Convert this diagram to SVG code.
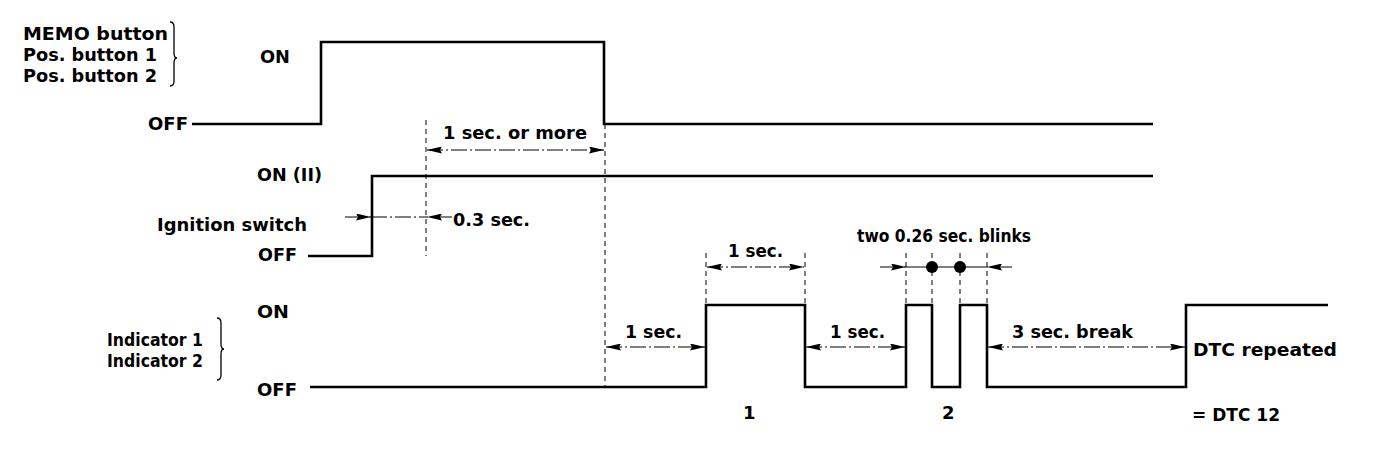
<svg xmlns="http://www.w3.org/2000/svg" width="1392" height="452" viewBox="0 0 1392 452">
<style>
text{font-family:"DejaVu Sans","Liberation Sans",sans-serif;font-weight:bold;font-size:18px;fill:#000}
.sig{fill:none;stroke:#000;stroke-width:2.6;stroke-linejoin:miter}
.ext{fill:none;stroke:#000;stroke-width:1;stroke-dasharray:5 4}
.dim{fill:none;stroke:#000;stroke-width:1;stroke-dasharray:16 3 2 3}
.br{fill:none;stroke:#000;stroke-width:1.3}
</style>
<defs>
<marker id="ah" viewBox="0 0 15 7" refX="15" refY="3.5" markerWidth="15" markerHeight="7" markerUnits="userSpaceOnUse" orient="auto-start-reverse">
<path d="M0,0 L15,3.5 L0,7 L2,3.5 z" fill="#000"/>
</marker>
</defs>
<rect width="1392" height="452" fill="#fff"/>

<g id="buttons">
<text x="23" y="40" textLength="145" lengthAdjust="spacingAndGlyphs">MEMO button</text>
<text x="23" y="61" textLength="134" lengthAdjust="spacingAndGlyphs">Pos. button 1</text>
<text x="23" y="82" textLength="134" lengthAdjust="spacingAndGlyphs">Pos. button 2</text>
<path class="br" d="M170,22 Q174,22 174,27 V53 Q174,58 177,58 Q174,58 174,63 V81 Q174,86 170,86"/>
<text x="260" y="63" textLength="30" lengthAdjust="spacingAndGlyphs">ON</text>
<text x="148" y="130" textLength="40" lengthAdjust="spacingAndGlyphs">OFF</text>
<path class="sig" d="M192,124 H321 V42 H604 V124 H1153"/>
</g>

<g id="ignition">
<text x="257" y="181" textLength="65" lengthAdjust="spacingAndGlyphs">ON (II)</text>
<text x="157" y="231" textLength="150" lengthAdjust="spacingAndGlyphs">Ignition switch</text>
<text x="258" y="261" textLength="39" lengthAdjust="spacingAndGlyphs">OFF</text>
<path class="sig" d="M308,256 H372 V176 H1153"/>
</g>

<g id="indicator">
<text x="203" y="346" text-anchor="end" textLength="96" lengthAdjust="spacingAndGlyphs">Indicator 1</text>
<text x="203" y="367" text-anchor="end" textLength="96" lengthAdjust="spacingAndGlyphs">Indicator 2</text>
<path class="br" d="M217,318 Q221,318 221,323 V344 Q221,349 224,349 Q221,349 221,354 V375 Q221,380 217,380"/>
<text x="257" y="318" textLength="32" lengthAdjust="spacingAndGlyphs">ON</text>
<text x="257" y="396" textLength="40" lengthAdjust="spacingAndGlyphs">OFF</text>
<path class="sig" d="M310,387 H706 V305 H805 V387 H906 V305 H932 V387 H960 V305 H987 V387 H1186 V305 H1328"/>
<text x="743" y="419">1</text>
<text x="942" y="419">2</text>
<text x="1193" y="356" textLength="144" lengthAdjust="spacingAndGlyphs">DTC repeated</text>
<text x="1192" y="421" textLength="88" lengthAdjust="spacingAndGlyphs">= DTC 12</text>
</g>

<g id="connectors">
<path class="ext" d="M426,120 V256 M605,124 V388 M706,253 V305 M805,253 V305 M906,253 V305 M932,253 V305 M960,253 V305 M987,253 V305"/>
<line class="dim" x1="427" y1="150" x2="604" y2="150" marker-start="url(#ah)" marker-end="url(#ah)"/>
<line class="dim" x1="345" y1="217" x2="371" y2="217" marker-end="url(#ah)"/>
<line class="dim" x1="371" y1="217" x2="427" y2="217"/>
<line class="dim" x1="452" y1="217" x2="427" y2="217" marker-end="url(#ah)"/>
<line class="dim" x1="707" y1="267" x2="804" y2="267" marker-start="url(#ah)" marker-end="url(#ah)"/>
<line class="dim" x1="606" y1="347" x2="705" y2="347" marker-start="url(#ah)" marker-end="url(#ah)"/>
<line class="dim" x1="806" y1="347" x2="905" y2="347" marker-start="url(#ah)" marker-end="url(#ah)"/>
<line class="dim" x1="988" y1="347" x2="1185" y2="347" marker-start="url(#ah)" marker-end="url(#ah)"/>
<line class="dim" x1="880" y1="267" x2="906" y2="267" marker-end="url(#ah)"/>
<line x1="906" y1="267" x2="987" y2="267" stroke="#000" stroke-width="1"/>
<line class="dim" x1="1012" y1="267" x2="987" y2="267" marker-end="url(#ah)"/>
<circle cx="932" cy="267" r="6"/>
<circle cx="960" cy="267" r="6"/>
<text x="443" y="139" textLength="144" lengthAdjust="spacingAndGlyphs">1 sec. or more</text>
<text x="453" y="226" textLength="77" lengthAdjust="spacingAndGlyphs">0.3 sec.</text>
<text x="728" y="257" textLength="55" lengthAdjust="spacingAndGlyphs">1 sec.</text>
<text x="857" y="242" textLength="174" lengthAdjust="spacingAndGlyphs">two 0.26 sec. blinks</text>
<text x="625" y="338" textLength="57" lengthAdjust="spacingAndGlyphs">1 sec.</text>
<text x="830" y="338" textLength="55" lengthAdjust="spacingAndGlyphs">1 sec.</text>
<text x="1012" y="338" textLength="121" lengthAdjust="spacingAndGlyphs">3 sec. break</text>
</g>
</svg>
